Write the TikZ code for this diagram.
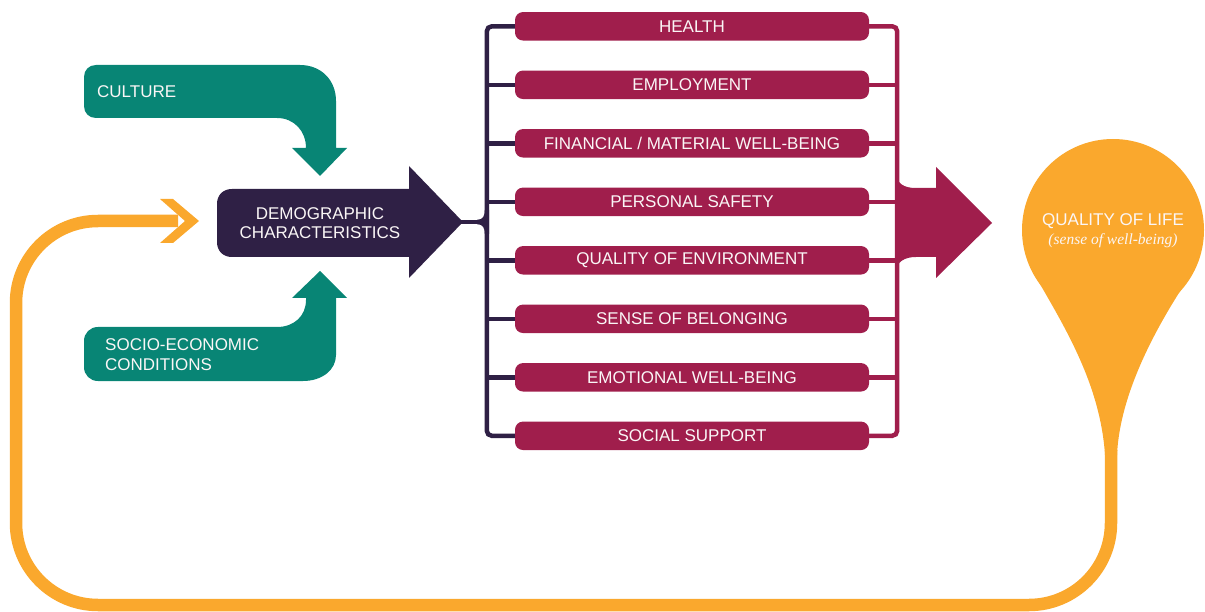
\documentclass[tikz,border=0pt]{standalone}
\usepackage{fontspec}
\setmainfont{Liberation Sans}
\newfontfamily\qserif{Liberation Serif}
\definecolor{cteal}{RGB}{8,133,117}
\definecolor{ccrim}{RGB}{160,30,76}
\definecolor{cplum}{RGB}{47,32,69}
\definecolor{corange}{RGB}{250,168,45}
\definecolor{ctext}{RGB}{250,246,246}
\begin{document}
\begin{tikzpicture}[x=1pt,y=-1pt,
  lbl/.style={text=ctext, font=\fontsize{17}{19.5}\selectfont, inner sep=0pt},
  itembox/.style={fill=ccrim, rounded corners=8pt, minimum width=354pt, minimum height=28.5pt, inner sep=0pt, text=ctext, font=\fontsize{17}{19.5}\selectfont},
  plumline/.style={draw=cplum, line width=4.5pt, rounded corners=5pt},
  crimline/.style={draw=ccrim, line width=4.5pt, rounded corners=5pt},
  loopline/.style={draw=corange, line width=12.5pt, rounded corners=82pt}]
\useasboundingbox (0,0) rectangle (1205,612);

% ---------- teal arrows ----------
\fill[cteal] (96,65) -- (300,65) .. controls (321,65) and (336,80) .. (336,101)
  -- (336,148) -- (347,148) -- (320,176) -- (292,148) -- (306,148)
  .. controls (306,131) and (294,118) .. (277,118)
  -- (96,118) .. controls (89,118) and (84,113) .. (84,106)
  -- (84,77) .. controls (84,70) and (89,65) .. (96,65) -- cycle;
\node[lbl, anchor=west] (culture) at (97,92) {CULTURE};

\fill[cteal] (98,327) -- (277,327) .. controls (294,327) and (306,316) .. (306,300)
  -- (306,298) -- (292,298) -- (320,271) -- (347,298) -- (336,298)
  -- (336,355) .. controls (336,370) and (322,381) .. (303,381)
  -- (98,381) .. controls (90,381) and (84,375) .. (84,367)
  -- (84,341) .. controls (84,333) and (90,327) .. (98,327) -- cycle;
\node[lbl, anchor=west, align=left] (socio) at (105,354.5) {SOCIO-ECONOMIC\\CONDITIONS};

% ---------- demographic arrow ----------
\fill[cplum] (232,189) -- (409,189) -- (409,166) -- (463,222) -- (409,278) -- (409,257)
  -- (232,257) .. controls (223,257) and (217,251) .. (217,242)
  -- (217,204) .. controls (217,195) and (223,189) .. (232,189) -- cycle;
\node[lbl, align=center] (demo) at (320,223) {DEMOGRAPHIC\\CHARACTERISTICS};
\coordinate (dtip) at (461,222);

% ---------- items ----------
\foreach \t [count=\i] in {HEALTH, EMPLOYMENT, {FINANCIAL / MATERIAL WELL-BEING}, PERSONAL SAFETY,
  QUALITY OF ENVIRONMENT, SENSE OF BELONGING, EMOTIONAL WELL-BEING, SOCIAL SUPPORT}
  \node[itembox] (b\i) at (692,{26.3+58.5*(\i-1)}) {\t};

% left bracket
\draw[plumline] (b1.west) -- ++(-28,0) |- (b8.west);
\foreach \i in {2,...,7} \draw[plumline, rounded corners=0pt] (b\i.west) -- ++(-28,0);
\coordinate (lj) at (487,222);
\draw[plumline, rounded corners=0pt] (dtip) -- (lj);
\fill[cplum] (477,219.8) .. controls (483,219.8) and (484.8,216) .. (484.8,210) -- (489.2,210) -- (489.2,234) -- (484.8,234) .. controls (484.8,228) and (483,224.2) .. (477,224.2) -- cycle;

% right bracket
\draw[crimline] (b1.east) -- ++(28,0) |- (b8.east);
\foreach \i in {2,...,7} \draw[crimline, rounded corners=0pt] (b\i.east) -- ++(28,0);
\fill[ccrim] (895,172) .. controls (897,184) and (904,188) .. (916,188) -- (936,188) -- (936,167)
  -- (992,223) -- (936,278) -- (936,257) -- (916,257) .. controls (904,257) and (897,262) .. (895,272) -- cycle;
\coordinate (rtip) at (992,223);

% ---------- quality of life ----------
\fill[corange] (1113,230) circle (91pt);
\fill[corange] (1032,270) .. controls (1060,320) and (1100,380) .. (1105,455)
  -- (1117,455) .. controls (1120,390) and (1160,320) .. (1194,270) -- cycle;
\node[lbl] (qol) at (1113,221) {QUALITY OF LIFE};
\node[text=ctext, inner sep=0pt, font=\qserif\itshape\fontsize{15.5}{18}\selectfont] (qsub) at (1113,241) {(sense of well-being)};

% ---------- feedback loop ----------
\coordinate (stem) at (1111,450);
\coordinate (loopend) at (178,221);
\draw[loopline] (stem) -- (1111,605) -- (16,605) -- (16,221) -- (loopend);
\fill[corange] (160,199) -- (173,199) -- (199,221) -- (173,243) -- (160,243) -- (185,221) -- cycle;
\end{tikzpicture}
\end{document}
